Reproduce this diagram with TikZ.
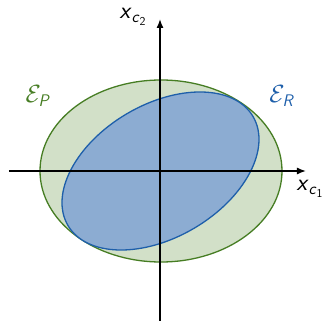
\documentclass[tikz,border=0pt]{standalone}
\usepackage{amsmath}
\usetikzlibrary{arrows.meta}
\definecolor{gedge}{RGB}{70,125,35}
\definecolor{gfill}{RGB}{210,224,200}
\definecolor{bedge}{RGB}{30,95,170}
\definecolor{bfill}{RGB}{140,172,210}
\newcommand{\sfi}[1]{\textsf{\textit{#1}}}
\begin{document}
\begin{tikzpicture}[x=1pt,y=-1pt,
  axis/.style={line width=1.4pt,-{Latex[length=9pt,width=7pt]}},
  lbl/.style={font=\fontsize{24}{28}\selectfont,inner sep=0pt}]
\useasboundingbox (0,0) rectangle (325,321);
\fill[gfill,draw=gedge,line width=1.3pt] (161,171) ellipse [x radius=121, y radius=91];
\fill[bfill,draw=bedge,line width=1.3pt,rotate around={30.5:(160.5,171)}] (160.5,171) ellipse [x radius=107.4, y radius=66.4];
\coordinate (xl) at (9,171);
\coordinate (xr) at (306,171);
\coordinate (yb) at (160,321);
\coordinate (yt) at (160,19);
\draw[axis] (xl) -- (xr);
\draw[axis] (yb) -- (yt);
\node[lbl,text=gedge] (ep) at (38,96) {$\mathcal{E}_{\sfi{P}}$};
\node[lbl,text=bedge] (er) at (282,96) {$\mathcal{E}_{\sfi{R}}$};
\node[lbl] (xc2) at (133,17) {\sfi{x}$_{\sfi{c}_{\textsf{2}}}$};
\node[lbl] (xc1) at (310,189) {\sfi{x}$_{\sfi{c}_{\textsf{1}}}$};
\end{tikzpicture}
\end{document}
